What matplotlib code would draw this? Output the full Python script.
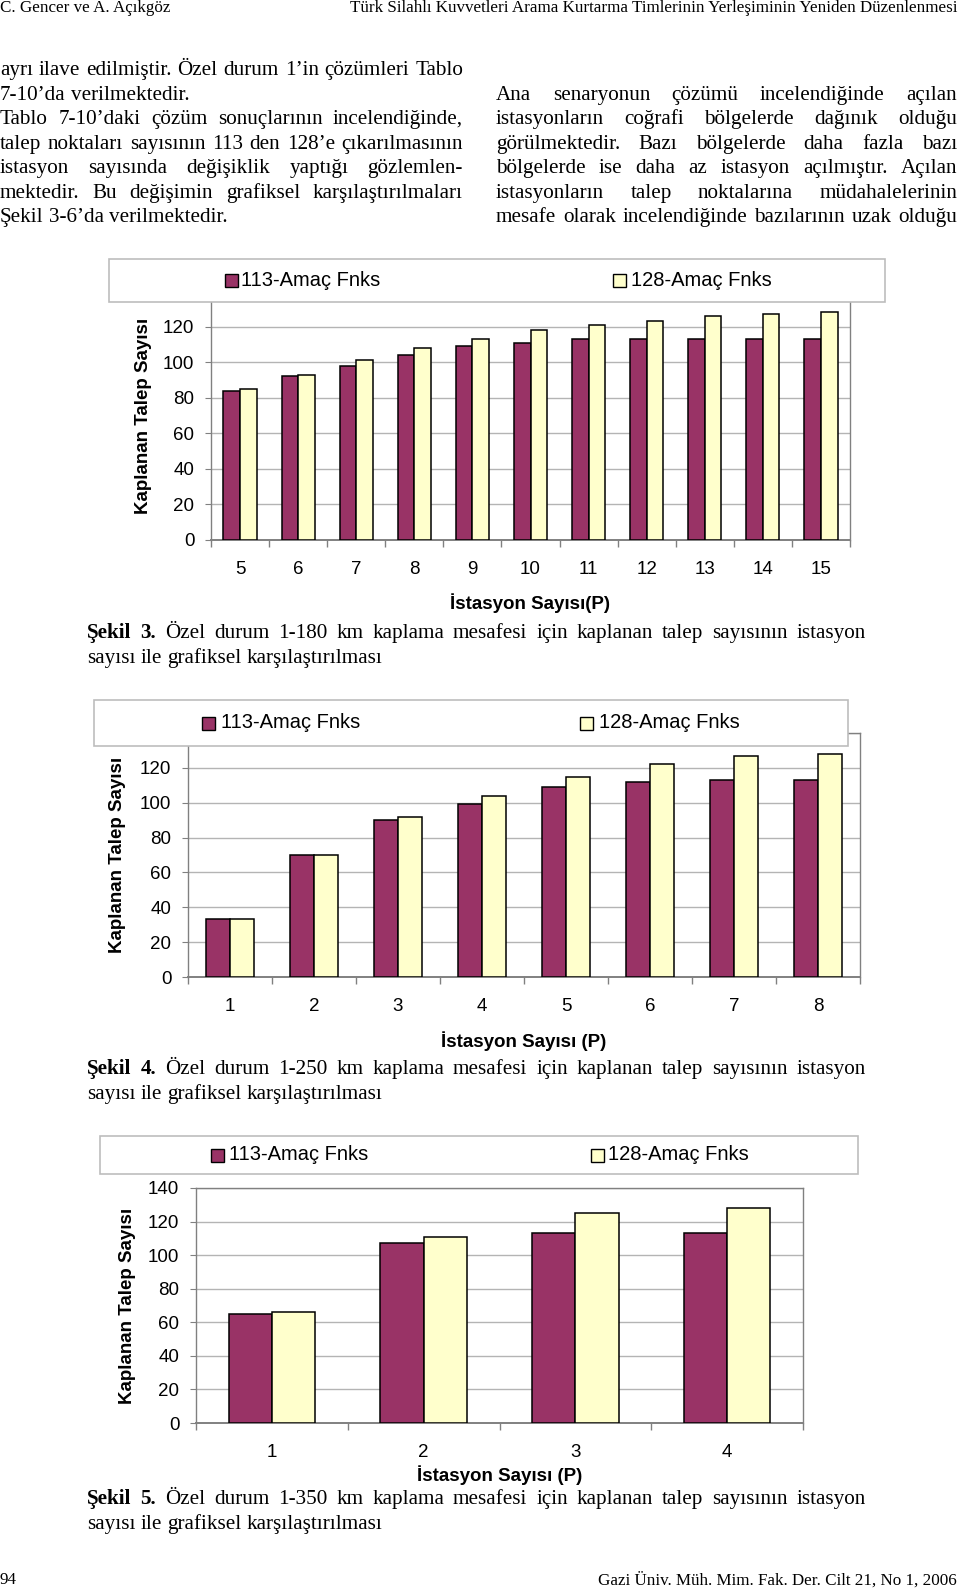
import matplotlib
matplotlib.use('Agg')
import matplotlib.pyplot as plt
from matplotlib.patches import Rectangle
import numpy as np

W, H = 960, 1592
SANS = 'Liberation Sans'
SERIF = 'Liberation Serif'
PURPLE = '#993366'
CREAM = '#FFFFCC'
GRID = '#B4B4B4'
SPINE = '#808080'

series_names = ['113-Amaç Fnks', '128-Amaç Fnks']

# Sekil 3 - 180 km
p_fig3 = [5, 6, 7, 8, 9, 10, 11, 12, 13, 14, 15]
a113_fig3 = [84, 92, 98, 104, 109, 111, 113, 113, 113, 113, 113]
a128_fig3 = [85, 93, 101, 108, 113, 118, 121, 123, 126, 127, 128]

# Sekil 4 - 250 km
p_fig4 = [1, 2, 3, 4, 5, 6, 7, 8]
a113_fig4 = [33, 70, 90, 99, 109, 112, 113, 113]
a128_fig4 = [33, 70, 92, 104, 115, 122, 127, 128]

# Sekil 5 - 350 km
p_fig5 = [1, 2, 3, 4]
a113_fig5 = [65, 107, 113, 113]
a128_fig5 = [66, 111, 125, 128]

yticks = [0, 20, 40, 60, 80, 100, 120, 140]
ylabel = 'Kaplanan Talep Sayısı'

header_left = 'C. Gencer ve A. Açıkgöz'
header_right = 'Türk Silahlı Kuvvetleri Arama Kurtarma Timlerinin Yerleşiminin Yeniden Düzenlenmesi'
footer_left = '94'
footer_right = 'Gazi Üniv. Müh. Mim. Fak. Der. Cilt 21, No 1, 2006'

left_col = [
    ('ayrı ilave edilmiştir. Özel durum 1’in çözümleri Tablo', True),
    ('7-10’da verilmektedir.', False),
    ('Tablo 7-10’daki çözüm sonuçlarının incelendiğinde,', True),
    ('talep noktaları sayısının 113 den 128’e çıkarılmasının', True),
    ('istasyon sayısında değişiklik yaptığı gözlemlen-', True),
    ('mektedir. Bu değişimin grafiksel karşılaştırılmaları', True),
    ('Şekil 3-6’da verilmektedir.', False),
]
right_col = [
    ('Ana senaryonun çözümü incelendiğinde açılan', True),
    ('istasyonların coğrafi bölgelerde dağınık olduğu', True),
    ('görülmektedir. Bazı bölgelerde daha fazla bazı', True),
    ('bölgelerde ise daha az istasyon açılmıştır. Açılan', True),
    ('istasyonların talep noktalarına müdahalelerinin', True),
    ('mesafe olarak incelendiğinde bazılarının uzak olduğu', True),
]
cap3 = 'Şekil 3. Özel durum 1-180 km kaplama mesafesi için kaplanan talep sayısının istasyon'
cap4 = 'Şekil 4. Özel durum 1-250 km kaplama mesafesi için kaplanan talep sayısının istasyon'
cap5 = 'Şekil 5. Özel durum 1-350 km kaplama mesafesi için kaplanan talep sayısının istasyon'
cap_tail = 'sayısı ile grafiksel karşılaştırılması'

fig = plt.figure(figsize=(W / 100, H / 100), dpi=100)
page = fig.add_axes([0, 0, 1, 1], zorder=5)
page.set_xlim(0, W)
page.set_ylim(H, 0)
page.axis('off')
page.patch.set_alpha(0)
rend = fig.canvas.get_renderer()


def text_w(s, size, weight='normal', family=SERIF):
    t = page.text(0, 0, s, fontsize=size, fontweight=weight, family=family)
    w = t.get_window_extent(renderer=rend).width
    t.remove()
    return w


def fit(s, width, weight='normal', family=SERIF):
    return 12 * width / text_w(s, 12, weight, family)


def put_line(s, x0, x1, y, size, justify=True, bold_words=0):
    # y is the visual middle of the line; words share one baseline
    words = s.split(' ')
    weights = ['bold' if i < bold_words else 'normal' for i in range(len(words))]
    widths = [text_w(w, size, wt) for w, wt in zip(words, weights)]
    if justify and len(words) > 1:
        gap = (x1 - x0 - sum(widths)) / (len(words) - 1)
    else:
        gap = text_w('a a', size) - text_w('aa', size)
    base = y + 0.3 * size * 100 / 72
    x = x0
    for w, wt, wd in zip(words, weights, widths):
        page.text(x, base, w, fontsize=size, fontweight=wt, family=SERIF,
                  ha='left', va='baseline')
        x += wd + gap


# header / footer
hs = fit(header_right, 607)
page.text(0, 8, header_left, fontsize=hs, family=SERIF, ha='left', va='center')
page.text(957, 8, header_right, fontsize=hs, family=SERIF, ha='right', va='center')
page.text(0, 1580, footer_left, fontsize=hs, family=SERIF, ha='left', va='center')
page.text(957, 1580, footer_right, fontsize=hs, family=SERIF, ha='right', va='center')

# body text
bs = fit('Şekil 3-6’da verilmektedir.', 227)
for i, (s, j) in enumerate(left_col):
    put_line(s, 0, 463, 69 + i * 24.5, bs, j)
for i, (s, j) in enumerate(right_col):
    put_line(s, 496, 957, 93.5 + i * 24.5, bs, j)

# captions
for cap, y in [(cap3, 632), (cap4, 1068), (cap5, 1498)]:
    put_line(cap, 87, 866, y, bs, True, bold_words=2)
    put_line(cap_tail, 87, 866, y + 24.5, bs, False)


def px_axes(x0, y0, x1, y1):
    return fig.add_axes([x0 / W, 1 - y1 / H, (x1 - x0) / W, (y1 - y0) / H])


def bar_chart(area, leg, sq_x, txt_x, p, v1, v2, xlabel, ylab_x, xlab_y):
    x0, y0, x1, y1 = area
    ax = px_axes(x0, y0, x1, y1)
    n = len(p)
    x = np.arange(n)
    w = 1 / 3.5
    ax.bar(x - w / 2, v1, w, color=PURPLE, edgecolor='black', linewidth=1.1, zorder=3)
    ax.bar(x + w / 2, v2, w, color=CREAM, edgecolor='black', linewidth=1.1, zorder=3)
    ax.set_xlim(-0.5, n - 0.5)
    ax.set_ylim(0, 140)
    ax.set_yticks(yticks)
    ax.set_xticks(x)
    ax.set_xticklabels([str(v) for v in p])
    ax.set_xticks(np.arange(n + 1) - 0.5, minor=True)
    ax.tick_params(axis='x', which='major', length=0, pad=15, labelsize=13.5)
    ax.tick_params(axis='x', which='minor', length=5, color=SPINE, width=1)
    ax.tick_params(axis='y', length=4, color=SPINE, pad=8, labelsize=13.5)
    for lab in ax.get_xticklabels() + ax.get_yticklabels():
        lab.set_family(SANS)
    ax.grid(axis='y', color=GRID, linewidth=1, zorder=0)
    ax.set_axisbelow(True)
    for sp in ax.spines.values():
        sp.set_color(SPINE)
        sp.set_linewidth(1)
    ax.spines['bottom'].set_linewidth(1.4)
    ax.set_ylabel(ylabel, fontsize=13.5, fontweight='bold', family=SANS)
    ax.yaxis.set_label_coords((ylab_x - x0) / (x1 - x0), 0.5)
    ax.yaxis.label.set_verticalalignment('center')
    ax.set_xlabel(xlabel, fontsize=13.5, fontweight='bold', family=SANS)
    ax.xaxis.set_label_coords(0.5, (y1 - xlab_y) / (y1 - y0))
    ax.xaxis.label.set_verticalalignment('center')

    # legend box drawn on top of the plot frame
    lx0, ly0, lx1, ly1 = leg
    page.add_patch(Rectangle((lx0, ly0), lx1 - lx0, ly1 - ly0, facecolor='white',
                             edgecolor='#BDBDBD', linewidth=1.2))
    yc = (ly0 + ly1) / 2
    for sx, tx, col, name in zip(sq_x, txt_x, [PURPLE, CREAM], series_names):
        page.add_patch(Rectangle((sx, yc - 6.5), 13, 13, facecolor=col,
                                 edgecolor='black', linewidth=1))
        page.text(tx, yc, name, fontsize=14.5, family=SANS, ha='left', va='center')
    return ax


bar_chart((211, 291, 850, 540), (109, 259, 885, 302), (225, 613), (241, 631),
          p_fig3, a113_fig3, a128_fig3, 'İstasyon Sayısı(P)', 143, 603)
bar_chart((188, 733, 860, 977), (94, 700, 848, 746), (202, 580), (221, 599),
          p_fig4, a113_fig4, a128_fig4, 'İstasyon Sayısı (P)', 117, 1041)
bar_chart((196, 1188, 803, 1423), (100, 1136, 858, 1174), (211, 591), (229, 608),
          p_fig5, a113_fig5, a128_fig5, 'İstasyon Sayısı (P)', 127, 1475)

fig.savefig('out.png', dpi=100, facecolor='white')
